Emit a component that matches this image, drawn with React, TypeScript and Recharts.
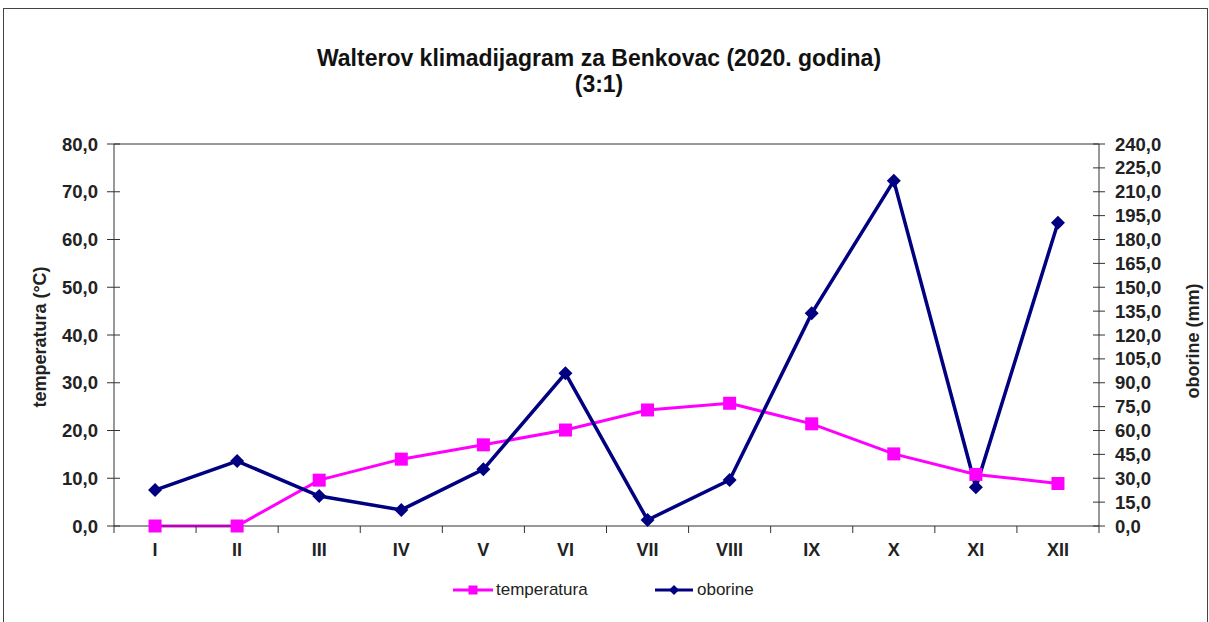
import React from 'react';
import { LineChart, Line, XAxis, YAxis, Legend, ReferenceLine } from 'recharts';

// mjeseci (rimski brojevi)
const months = ['I', 'II', 'III', 'IV', 'V', 'VI', 'VII', 'VIII', 'IX', 'X', 'XI', 'XII'];
// srednja mjesečna temperatura (°C)
const temperatura = [0.0, 0.0, 9.6, 14.0, 17.0, 20.1, 24.3, 25.7, 21.4, 15.1, 10.8, 8.9];
// mjesečna količina oborine (mm)
const oborine = [22.6, 40.8, 18.8, 10.1, 35.6, 95.9, 3.8, 28.9, 133.6, 216.9, 24.3, 190.5];

const tempTicks = [0, 10, 20, 30, 40, 50, 60, 70, 80];
const rainTicks = [0, 15, 30, 45, 60, 75, 90, 105, 120, 135, 150, 165, 180, 195, 210, 225, 240];

const data = months.map((m, i) => ({ month: m, temp: temperatura[i], rain: oborine[i] }));

const FONT = '"Liberation Sans", Arial, sans-serif';
const W = 1209;
const H = 622;
const PLOT_LEFT = 114;
const PLOT_RIGHT = 1099;
const BAND = (PLOT_RIGHT - PLOT_LEFT) / months.length;

const PINK = '#FF00FF';
const NAVY = '#000080';
const AXIS = '#333';

const fmt = (v: number) => v.toFixed(1).replace('.', ',');

const LeftTick = (props: any) => {
  const { x, y, payload } = props;
  return (
    <g>
      <line x1={x - 7} x2={x + 6} y1={y} y2={y} stroke={AXIS} />
      <text x={x - 16} y={y + 6.5} textAnchor="end" fontFamily={FONT} fontSize={18.5} fontWeight="bold" fill="#222">
        {fmt(payload.value)}
      </text>
    </g>
  );
};

const RightTick = (props: any) => {
  const { x, y, payload } = props;
  return (
    <g>
      <line x1={x - 6} x2={x + 6} y1={y} y2={y} stroke={AXIS} />
      <text x={x + 16} y={y + 6.5} textAnchor="start" fontFamily={FONT} fontSize={18.5} fontWeight="bold" fill="#222">
        {fmt(payload.value)}
      </text>
    </g>
  );
};

const MonthTick = (props: any) => {
  const { x, y, payload, index } = props;
  return (
    <g>
      <line x1={x - BAND / 2} x2={x - BAND / 2} y1={y} y2={y + 7} stroke={AXIS} />
      {index === months.length - 1 && (
        <line x1={x + BAND / 2} x2={x + BAND / 2} y1={y} y2={y + 7} stroke={AXIS} />
      )}
      <text x={x} y={y + 29.5} textAnchor="middle" fontFamily={FONT} fontSize={18} fontWeight="bold" fill="#222">
        {payload.value}
      </text>
    </g>
  );
};

const SquareDot = (props: any) => {
  const { cx, cy, index } = props;
  return <rect key={`t-${index}`} x={cx - 6.5} y={cy - 6.5} width={13} height={13} fill={PINK} />;
};

const DiamondDot = (props: any) => {
  const { cx, cy, index } = props;
  return (
    <path
      key={`o-${index}`}
      d={`M${cx},${cy - 7} L${cx + 7},${cy} L${cx},${cy + 7} L${cx - 7},${cy} Z`}
      fill={NAVY}
    />
  );
};

const LegendBox = () => (
  <div style={{ position: 'relative', width: W, height: 20, fontFamily: FONT, fontSize: 17, lineHeight: '20px', color: '#222' }}>
    <div style={{ position: 'absolute', left: 453, top: 0, display: 'flex', alignItems: 'center' }}>
      <svg width={40} height={20}>
        <line x1={0} x2={40} y1={10} y2={10} stroke={PINK} strokeWidth={3} />
        <rect x={15.5} y={5.5} width={9} height={9} fill={PINK} />
      </svg>
      <span style={{ marginLeft: 3 }}>temperatura</span>
    </div>
    <div style={{ position: 'absolute', left: 655, top: 0, display: 'flex', alignItems: 'center' }}>
      <svg width={38} height={20}>
        <line x1={0} x2={38} y1={10} y2={10} stroke={NAVY} strokeWidth={3} />
        <path d="M19,5 L24,10 L19,15 L14,10 Z" fill={NAVY} />
      </svg>
      <span style={{ marginLeft: 4 }}>oborine</span>
    </div>
  </div>
);

export default function App() {
  return (
    <div style={{ position: 'absolute', left: 0, top: 0, width: W, height: H, overflow: 'hidden', background: '#fff' }}>
      <div style={{ position: 'absolute', left: 3, top: 8, width: 1203, height: 700, border: '1px solid #444' }} />
      <div
        style={{
          position: 'absolute', left: 0, top: 45, width: 1198, textAlign: 'center',
          fontFamily: FONT, fontSize: 23, fontWeight: 'bold', lineHeight: '26px', color: '#111',
        }}
      >
        Walterov klimadijagram za Benkovac (2020. godina)
        <br />
        (3:1)
      </div>
      <div style={{ position: 'absolute', left: 0, top: 0 }}>
        <LineChart width={W} height={H} data={data} margin={{ top: 144, right: 0, bottom: 0, left: 0 }}>
          <XAxis
            dataKey="month"
            height={96}
            padding={{ left: BAND / 2, right: BAND / 2 }}
            axisLine={{ stroke: AXIS }}
            tickLine={false}
            tickSize={0}
            tickMargin={0}
            interval={0}
            tick={<MonthTick />}
          />
          <YAxis
            yAxisId="left"
            orientation="left"
            width={114}
            domain={[0, 80]}
            ticks={tempTicks}
            axisLine={{ stroke: AXIS }}
            tickLine={false}
            tickSize={0}
            tickMargin={0}
            tick={<LeftTick />}
            label={{
              content: () => (
                <text
                  x={40}
                  y={337}
                  transform="rotate(-90 40 337)"
                  textAnchor="middle"
                  dominantBaseline="central"
                  fontFamily={FONT}
                  fontSize={18}
                  fontWeight="bold"
                  fill="#222"
                >
                  temperatura (°C)
                </text>
              ),
            }}
          />
          <YAxis
            yAxisId="right"
            orientation="right"
            width={110}
            domain={[0, 240]}
            ticks={rainTicks}
            axisLine={{ stroke: AXIS }}
            tickLine={false}
            tickSize={0}
            tickMargin={0}
            tick={<RightTick />}
            label={{
              content: () => (
                <text
                  x={1193}
                  y={341}
                  transform="rotate(-90 1193 341)"
                  textAnchor="middle"
                  dominantBaseline="central"
                  fontFamily={FONT}
                  fontSize={18}
                  fontWeight="bold"
                  fill="#222"
                >
                  oborine (mm)
                </text>
              ),
            }}
          />
          <ReferenceLine yAxisId="left" y={80} stroke={AXIS} />
          <Legend
            layout="horizontal"
            verticalAlign="middle"
            align="center"
            wrapperStyle={{ top: 580, left: 0, width: W }}
            content={() => <LegendBox />}
          />
          <Line
            yAxisId="left"
            type="linear"
            dataKey="temp"
            stroke={PINK}
            strokeWidth={3}
            dot={<SquareDot />}
            activeDot={false}
            isAnimationActive={false}
          />
          <Line
            yAxisId="right"
            type="linear"
            dataKey="rain"
            stroke={NAVY}
            strokeWidth={3.5}
            dot={<DiamondDot />}
            activeDot={false}
            isAnimationActive={false}
          />
        </LineChart>
      </div>
    </div>
  );
}
